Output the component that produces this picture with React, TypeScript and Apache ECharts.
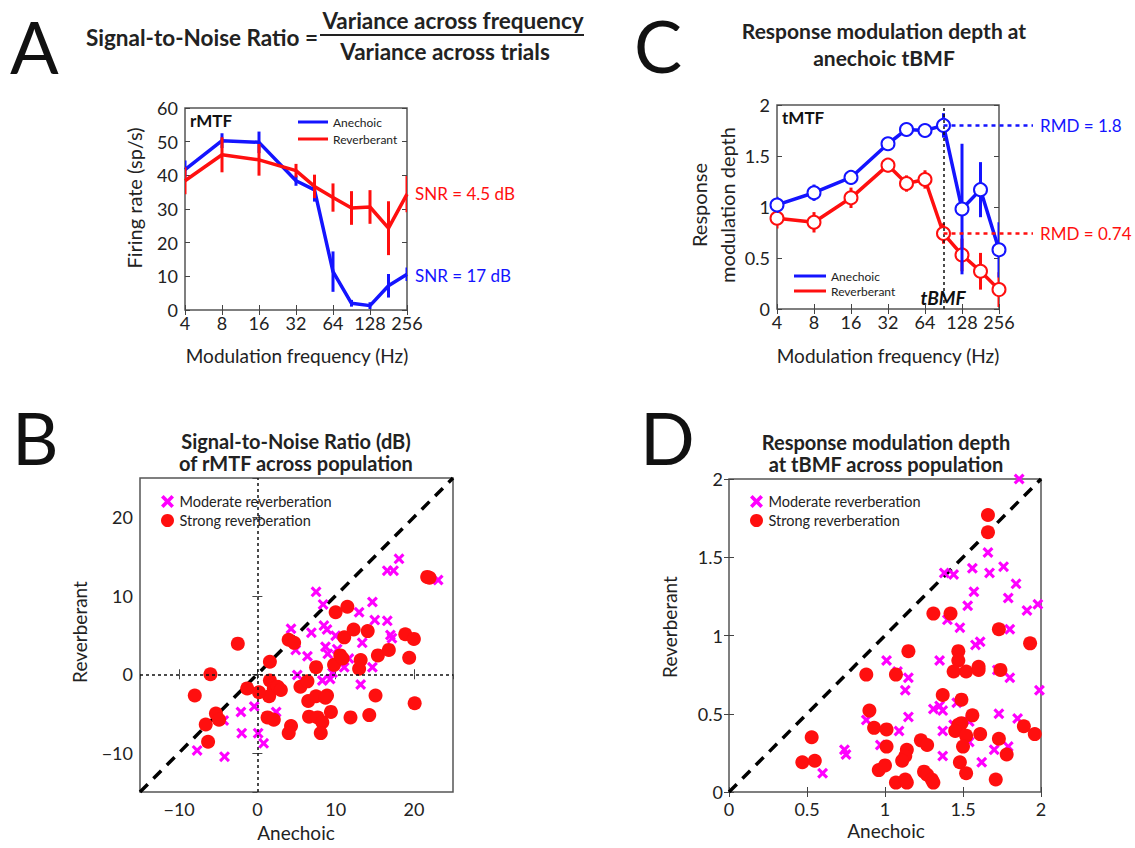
import React, { useEffect, useRef } from "react";
import * as echarts from "echarts";

// ---------- Data ----------
const freqs = [4, 8, 16, 32, 45.25, 64, 90.5, 128, 181, 256];

// Panel A: rMTF (firing rate, sp/s)
const rmtfAnechoic = [41.7, 50.3, 49.8, 38.4, 35.7, 11.4, 2.0, 1.3, 7.2, 10.6];
const rmtfAnechoicErr = [2.7, 2.2, 3.2, 1.5, 3.5, 6, 1, 1, 3.5, 2];
const rmtfReverb = [38.4, 46.1, 44.6, 41.4, 36.7, 33.4, 30.3, 30.6, 24.3, 34.4];
const rmtfReverbErr = [4, 5.2, 4.7, 2, 3.5, 4.2, 5, 5, 8, 5.4];
const snrReverb = "SNR = 4.5 dB";
const snrAnechoic = "SNR = 17 dB";

// Panel C: tMTF (response modulation depth)
const tmtfAnechoic = [1.02, 1.14, 1.29, 1.62, 1.76, 1.75, 1.8, 0.98, 1.17, 0.58];
const tmtfAnechoicErr = [0.08, 0.08, 0.07, 0.04, 0.04, 0.05, 0.12, 0.64, 0.27, 0.27];
const tmtfReverb = [0.89, 0.85, 1.09, 1.41, 1.23, 1.27, 0.74, 0.53, 0.37, 0.19];
const tmtfReverbErr = [0.1, 0.1, 0.1, 0.07, 0.08, 0.09, 0.1, 0.16, 0.18, 0.17];
const tBMF = 90.5;
const rmdAnechoic = 1.8;
const rmdReverb = 0.74;

// Panel B: SNR (dB) across population [anechoic, reverberant]
const bModerate = [
  [-7.7, -9.7], [-4.2, -10.5], [-4.3, -5.9], [-2.1, -4.8], [-2.0, -7.5], [-0.4, -4.1],
  [0.1, -7.5], [0.8, -8.8], [2.4, -4.8], [4.3, 5.8], [4.9, 3.1], [5.1, -0.1],
  [6.4, 2.3], [6.9, 5.3], [7.5, 10.5], [8.4, 8.9], [8.5, 6.2], [8.7, 3.5],
  [8.9, 5.7], [9.0, 2.6], [9.3, -0.6], [8.3, -0.8], [10.0, 4.9], [10.2, 3.2],
  [11.1, 0.9], [11.7, 2.0], [13.0, 7.9], [13.4, 4.0], [13.2, -1.3], [14.7, 9.2],
  [15.0, 6.9], [14.7, 0.9], [16.6, 6.8], [17.0, 5.0], [17.2, 4.6], [16.6, 13.2],
  [17.4, 13.2], [18.1, 14.7], [23.1, 12.0], [9.6, 0.2]
];
const bStrong = [
  [-8.0, -2.7], [-6.0, 0.0], [-2.5, 3.9], [-6.6, -6.4], [-5.3, -5.0], [-4.9, -5.8],
  [-6.3, -8.6], [-1.3, -1.8], [1.6, 1.6], [1.6, -0.8], [2.1, -1.8], [1.5, -2.8],
  [2.6, -1.6], [0.2, -2.3], [1.3, -5.5], [2.1, -5.8], [3.0, -2.0], [4.0, 4.4],
  [4.7, 4.0], [4.3, -6.6], [4.0, -7.5], [5.5, -1.6], [6.4, -0.9], [6.5, -3.4],
  [6.6, -5.4], [7.7, -5.5], [7.5, 0.9], [7.5, -2.8], [8.3, -6.1], [8.1, -7.5],
  [8.9, -2.7], [9.4, -4.8], [10.0, 7.9], [11.5, 8.6], [9.8, 1.2], [10.6, 2.4],
  [10.9, 2.0], [11.1, 4.7], [13.0, 0.7], [12.3, 5.7], [11.9, -5.5], [13.2, 1.8],
  [14.1, 5.5], [15.1, -2.7], [14.3, -5.2], [15.4, 2.4], [16.8, 3.1], [18.9, 5.1],
  [20.0, 4.5], [19.4, 2.1], [20.1, -3.7], [21.7, 12.4], [22.0, 12.3], [8.7, -3.0]
];

// Panel D: RMD at tBMF across population [anechoic, reverberant]
const dModerate = [
  [1.86, 2.0], [1.66, 1.53], [1.38, 1.4], [1.44, 1.39], [1.56, 1.43], [1.67, 1.4],
  [1.76, 1.44], [1.84, 1.33], [1.57, 1.28], [1.79, 1.24], [1.53, 1.19], [1.91, 1.16],
  [1.98, 1.2], [1.4, 1.1], [1.48, 1.05], [1.8, 1.04], [1.58, 0.94], [1.61, 0.96],
  [1.01, 0.84], [1.35, 0.84], [1.08, 0.77], [1.15, 0.73], [1.72, 0.78], [1.8, 0.73],
  [1.13, 0.65], [1.99, 0.65], [1.31, 0.53], [1.35, 0.55], [1.37, 0.52], [1.46, 0.57],
  [1.15, 0.48], [0.88, 0.46], [1.73, 0.5], [1.85, 0.47], [1.09, 0.39], [1.37, 0.39],
  [0.74, 0.27], [0.75, 0.24], [0.97, 0.3], [1.54, 0.45], [1.54, 0.32], [1.37, 0.23],
  [1.7, 0.27], [1.79, 0.29], [1.62, 0.19], [0.6, 0.12], [1.44, 0.43]
];
const dStrong = [
  [1.66, 1.77], [1.66, 1.66], [1.31, 1.14], [1.42, 1.14], [1.73, 1.04], [1.93, 0.95],
  [1.15, 0.9], [0.88, 0.75], [1.07, 0.75], [1.47, 0.9], [1.47, 0.84], [1.44, 0.77],
  [1.52, 0.77], [1.6, 0.78], [1.6, 0.8], [1.74, 0.78], [1.37, 0.62], [1.49, 0.59],
  [0.9, 0.52], [1.56, 0.49], [0.93, 0.41], [1.01, 0.4], [0.53, 0.35], [1.47, 0.43],
  [1.49, 0.44], [1.45, 0.39], [1.52, 0.36], [1.61, 0.37], [1.73, 0.34], [1.89, 0.42],
  [1.96, 0.37], [1.5, 0.29], [1.01, 0.29], [1.14, 0.27], [1.23, 0.33], [1.27, 0.3],
  [1.13, 0.23], [1.11, 0.2], [1.78, 0.24], [1.48, 0.19], [0.47, 0.19], [0.55, 0.2],
  [0.96, 0.14], [1.0, 0.17], [1.52, 0.12], [1.25, 0.13], [1.27, 0.11], [1.3, 0.08],
  [1.31, 0.06], [1.07, 0.06], [1.13, 0.08], [1.14, 0.06], [1.71, 0.08]
];

// ---------- Styles ----------
const FONT = "Lato, 'Open Sans', sans-serif";
const BLUE = "#1414ff";
const RED = "#ff0f0f";
const MAGENTA = "#ff00ff";
const XMARK = "path://M2,0 L5,3 L8,0 L10,2 L7,5 L10,8 L8,10 L5,7 L2,10 L0,8 L3,5 L0,2 Z";

const minus = (v: number) => (v < 0 ? "\u2212" + Math.abs(v) : String(v));

const tickStyle = { show: true, inside: true, length: 5, lineStyle: { color: "#444", width: 1 } };

function makeAxis(grid: number, pos: string, extra: any, labelMargin: number) {
  const mirror = pos === "top" || pos === "right";
  return {
    gridIndex: grid,
    position: pos,
    axisLine: { show: false },
    axisTick: tickStyle,
    splitLine: { show: false },
    axisLabel: {
      show: !mirror,
      color: "#222",
      fontSize: 18,
      fontFamily: FONT,
      margin: labelMargin,
      ...(extra.axisLabel || {}),
    },
    ...Object.fromEntries(Object.entries(extra).filter(([k]) => k !== "axisLabel")),
  };
}

function errSeries(xi: number, xs: number[], ys: number[], es: number[], color: string, z: number) {
  return {
    type: "custom",
    xAxisIndex: xi,
    yAxisIndex: xi,
    z,
    clip: true,
    encode: { x: 0, y: 1 },
    data: xs.map((x, i) => [x, ys[i], es[i]]),
    renderItem: (_p: any, api: any) => {
      const x = api.value(0);
      const y = api.value(1);
      const e = api.value(2);
      const p1 = api.coord([x, y - e]);
      const p2 = api.coord([x, y + e]);
      return {
        type: "line",
        shape: { x1: p1[0], y1: p1[1], x2: p2[0], y2: p2[1] },
        style: { stroke: color, lineWidth: 3 },
      };
    },
  };
}

function txt(text: string, x: number, y: number, o: any = {}) {
  const { rotation, ...style } = o;
  return {
    type: "text",
    x,
    y,
    rotation: rotation || 0,
    silent: true,
    style: {
      text,
      fontFamily: FONT,
      fontSize: 17,
      fill: "#222",
      align: "left",
      verticalAlign: "middle",
      ...style,
    },
  };
}

export default function App() {
  const ref = useRef<HTMLDivElement>(null);

  useEffect(() => {
    if (!ref.current) return;
    const chart = echarts.init(ref.current, undefined, { renderer: "svg" });

    const logX = { type: "log", logBase: 2, min: 4, max: 256, splitNumber: 6, axisLabel: { formatter: (v: number) => String(Math.round(v)) } };
    const bAx = { type: "value", min: -15, max: 25, splitNumber: 4, axisLabel: { formatter: minus, showMinLabel: false, showMaxLabel: false } };
    const dAx = { type: "value", min: 0, max: 2, interval: 0.5 };
    const aY = { type: "value", min: 0, max: 60, interval: 10 };
    const cY = { type: "value", min: 0, max: 2, interval: 0.5 };

    const gridStyle = { show: true, borderColor: "#555", borderWidth: 1.5, backgroundColor: "transparent" };
    const legendText = { color: "#222", fontFamily: FONT };

    const option: any = {
      animation: false,
      backgroundColor: "#fff",
      textStyle: { fontFamily: FONT },
      grid: [
        { left: 185, top: 108, width: 222, height: 202, ...gridStyle },
        { left: 777, top: 105, width: 222, height: 204, ...gridStyle },
        { left: 140, top: 478, width: 313, height: 314, ...gridStyle },
        { left: 729, top: 479, width: 312, height: 313, ...gridStyle },
      ],
      xAxis: [
        makeAxis(0, "bottom", logX, 4),
        makeAxis(0, "top", logX, 4),
        makeAxis(1, "bottom", logX, 4),
        makeAxis(1, "top", logX, 4),
        makeAxis(2, "bottom", bAx, 8),
        makeAxis(2, "top", bAx, 8),
        makeAxis(3, "bottom", dAx, 8),
        makeAxis(3, "top", dAx, 8),
      ],
      yAxis: [
        makeAxis(0, "left", aY, 7),
        makeAxis(0, "right", aY, 7),
        makeAxis(1, "left", cY, 7),
        makeAxis(1, "right", cY, 7),
        makeAxis(2, "left", bAx, 7),
        makeAxis(2, "right", bAx, 7),
        makeAxis(3, "left", dAx, 6),
        makeAxis(3, "right", dAx, 6),
      ],
      legend: [
        {
          left: 293, top: 111, orient: "vertical", icon: "rect", itemWidth: 30, itemHeight: 3, itemGap: 5,
          selectedMode: false, data: ["Anechoic", "Reverberant"],
          textStyle: { fontSize: 12, ...legendText },
        },
        {
          left: 789, top: 265, orient: "vertical", icon: "rect", itemWidth: 32, itemHeight: 3, itemGap: 3,
          selectedMode: false, data: ["Anechoic", "Reverberant"],
          textStyle: { fontSize: 12, ...legendText },
        },
        {
          left: 156, top: 489, orient: "vertical", itemWidth: 14, itemHeight: 13, itemGap: 4,
          selectedMode: false, data: ["Moderate reverberation", "Strong reverberation"],
          textStyle: { fontSize: 14.5, ...legendText },
        },
        {
          left: 745, top: 489, orient: "vertical", itemWidth: 14, itemHeight: 13, itemGap: 4,
          selectedMode: false, data: ["Moderate reverberation", "Strong reverberation"],
          textStyle: { fontSize: 14.5, ...legendText },
        },
      ],
      series: [
        // Panel A
        {
          type: "line", name: "Anechoic", xAxisIndex: 0, yAxisIndex: 0, symbol: "none", z: 3,
          data: freqs.map((f, i) => [f, rmtfAnechoic[i]]),
          lineStyle: { color: BLUE, width: 3.5 }, itemStyle: { color: BLUE },
        },
        errSeries(0, freqs, rmtfAnechoic, rmtfAnechoicErr, BLUE, 3),
        {
          type: "line", name: "Reverberant", xAxisIndex: 0, yAxisIndex: 0, symbol: "none", z: 4,
          data: freqs.map((f, i) => [f, rmtfReverb[i]]),
          lineStyle: { color: RED, width: 3.5 }, itemStyle: { color: RED },
        },
        errSeries(0, freqs, rmtfReverb, rmtfReverbErr, RED, 4),
        // Panel C
        {
          type: "line", name: "Reverberant", xAxisIndex: 2, yAxisIndex: 2, symbol: "emptyCircle", symbolSize: 13, z: 3,
          data: freqs.map((f, i) => [f, tmtfReverb[i]]),
          lineStyle: { color: RED, width: 3.5 }, itemStyle: { color: RED, borderWidth: 2.5 },
        },
        errSeries(2, freqs, tmtfReverb, tmtfReverbErr, RED, 3),
        {
          type: "line", name: "Anechoic", xAxisIndex: 2, yAxisIndex: 2, symbol: "emptyCircle", symbolSize: 13, z: 4,
          data: freqs.map((f, i) => [f, tmtfAnechoic[i]]),
          lineStyle: { color: BLUE, width: 3.5 }, itemStyle: { color: BLUE, borderWidth: 2.5 },
          markLine: {
            silent: true, symbol: ["none", "none"], label: { show: false },
            lineStyle: { color: "#111", type: [3, 3], width: 1.5 },
            data: [{ xAxis: tBMF }],
          },
        },
        errSeries(2, freqs, tmtfAnechoic, tmtfAnechoicErr, BLUE, 4),
        // Panel B
        {
          type: "line", xAxisIndex: 4, yAxisIndex: 4, symbol: "none", z: 1,
          data: [[-15, -15], [25, 25]],
          lineStyle: { color: "#000", width: 3.5, type: [11, 8] },
          markLine: {
            silent: true, symbol: ["none", "none"], label: { show: false },
            lineStyle: { color: "#111", type: [3, 3], width: 1.5 },
            data: [{ xAxis: 0 }, { yAxis: 0 }],
          },
        },
        {
          type: "scatter", name: "Moderate reverberation", xAxisIndex: 4, yAxisIndex: 4, z: 2,
          symbol: XMARK, symbolSize: 11, itemStyle: { color: MAGENTA, opacity: 1 }, data: bModerate,
        },
        {
          type: "scatter", name: "Strong reverberation", xAxisIndex: 4, yAxisIndex: 4, z: 3,
          symbol: "circle", symbolSize: 14, itemStyle: { color: RED, opacity: 1 }, data: bStrong,
        },
        // Panel D
        {
          type: "line", xAxisIndex: 6, yAxisIndex: 6, symbol: "none", z: 1,
          data: [[0, 0], [2, 2]],
          lineStyle: { color: "#000", width: 3.5, type: [11, 8] },
        },
        {
          type: "scatter", name: "Moderate reverberation", xAxisIndex: 6, yAxisIndex: 6, z: 2,
          symbol: XMARK, symbolSize: 11, itemStyle: { color: MAGENTA, opacity: 1 }, data: dModerate,
        },
        {
          type: "scatter", name: "Strong reverberation", xAxisIndex: 6, yAxisIndex: 6, z: 3,
          symbol: "circle", symbolSize: 14, itemStyle: { color: RED, opacity: 1 }, data: dStrong,
        },
      ],
    };

    chart.setOption(option);

    const finder = { xAxisIndex: 2, yAxisIndex: 2 };
    const pA = chart.convertToPixel(finder as any, [tBMF, rmdAnechoic]) as number[];
    const pR = chart.convertToPixel(finder as any, [tBMF, rmdReverb]) as number[];
    const pEnd = chart.convertToPixel(finder as any, [256, 0]) as number[];
    const xEnd = pEnd[0] + 34;

    const bold = { fontWeight: "bold" };
    const big = { fontSize: 72, lineHeight: 72, fill: "#111", fontWeight: "normal" };
    const graphic: any[] = [
      // Panel letters
      txt("A", 10, 46, big),
      txt("C", 634, 45, big),
      txt("B", 12, 437, big),
      txt("D", 640, 437, big),
      // Panel A title formula
      txt("Signal-to-Noise Ratio =", 318, 37, { ...bold, fontSize: 22.5, align: "right" }),
      txt("Variance across frequency", 453, 20, { ...bold, fontSize: 22.5, align: "center" }),
      { type: "line", silent: true, shape: { x1: 320, y1: 35, x2: 584, y2: 35 }, style: { stroke: "#222", lineWidth: 2 } },
      txt("Variance across trials", 445, 51, { ...bold, fontSize: 22.5, align: "center" }),
      // Panel C title
      txt("Response modulation depth at", 884, 30, { ...bold, fontSize: 21, align: "center" }),
      txt("anechoic tBMF", 884, 57, { ...bold, fontSize: 21, align: "center" }),
      // Panel B/D titles
      txt("Signal-to-Noise Ratio (dB)", 296, 441, { ...bold, fontSize: 20, align: "center" }),
      txt("of rMTF across population", 296, 463, { ...bold, fontSize: 20, align: "center" }),
      txt("Response modulation depth", 886, 442, { ...bold, fontSize: 20, align: "center" }),
      txt("at tBMF across population", 886, 464, { ...bold, fontSize: 20, align: "center" }),
      // Axis names
      txt("Modulation frequency (Hz)", 297, 355, { align: "center", fontSize: 19 }),
      txt("Firing rate (sp/s)", 134, 198, { align: "center", fontSize: 20, rotation: Math.PI / 2 }),
      txt("Modulation frequency (Hz)", 888, 355, { align: "center", fontSize: 19 }),
      txt("Response", 699, 205, { align: "center", fontSize: 20, rotation: Math.PI / 2 }),
      txt("modulation depth", 727, 205, { align: "center", fontSize: 20, rotation: Math.PI / 2 }),
      txt("Anechoic", 296, 832, { align: "center", fontSize: 19 }),
      txt("Reverberant", 79, 632, { align: "center", fontSize: 19, rotation: Math.PI / 2 }),
      txt("Anechoic", 886, 830, { align: "center", fontSize: 19 }),
      txt("Reverberant", 669, 627, { align: "center", fontSize: 19, rotation: Math.PI / 2 }),
      // In-plot labels
      txt("rMTF", 190, 120, { ...bold, fontSize: 17, fill: "#111" }),
      txt("tMTF", 782, 117, { ...bold, fontSize: 17, fill: "#111" }),
      txt("tBMF", 943, 297, { fontWeight: "bold", fontStyle: "italic", fontSize: 19, align: "center", fill: "#111" }),
      txt(snrReverb, 415, 193, { fontSize: 17, fill: RED }),
      txt(snrAnechoic, 415, 275, { fontSize: 17, fill: BLUE }),
      // RMD annotation lines
      { type: "line", silent: true, z: 10, shape: { x1: pA[0], y1: pA[1], x2: xEnd, y2: pA[1] }, style: { stroke: BLUE, lineWidth: 2.5, lineDash: [4, 4] } },
      { type: "line", silent: true, z: 10, shape: { x1: pR[0], y1: pR[1], x2: xEnd, y2: pR[1] }, style: { stroke: RED, lineWidth: 2.5, lineDash: [4, 4] } },
      txt("RMD = " + rmdAnechoic, xEnd + 7, pA[1], { fontSize: 17, fill: BLUE }),
      txt("RMD = " + rmdReverb, xEnd + 7, pR[1], { fontSize: 17, fill: RED }),
    ];
    chart.setOption({ graphic });

    return () => chart.dispose();
  }, []);

  return (
    <div
      ref={ref}
      style={{ position: "absolute", left: 0, top: 0, width: 1135, height: 848, background: "#fff" }}
    />
  );
}
